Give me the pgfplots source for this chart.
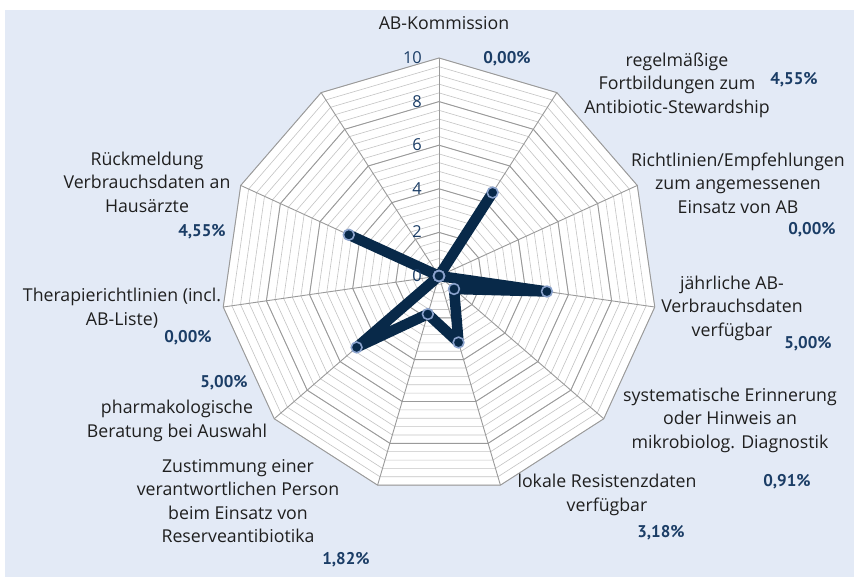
\documentclass[border=0pt]{standalone}
\usepackage{pgfplots}
\pgfplotsset{compat=1.18}
\usepackage{fontspec}
\setmainfont{Open Sans}
\newfontfamily\pts{PT Sans}
\definecolor{bg}{HTML}{E3EAF6}
\definecolor{navy}{HTML}{082949}
\definecolor{ring}{HTML}{8AA2CC}
\definecolor{pct}{HTML}{1B3D66}
\definecolor{gmaj}{HTML}{9A9A9A}
\definecolor{gmin}{HTML}{C4C4C4}
\begin{document}
\begin{tikzpicture}[x=1bp,y=1bp]
\useasboundingbox (0,0) rectangle (854,578);
\fill[white] (0,0) rectangle (854,578);
\fill[bg] (5,1) rectangle (854,568);
\begin{scope}[shift={(439,302)}, x=21.8bp, y=21.8bp]
  \fill[white] (90:10) \foreach \k in {1,...,10}{ -- ({90-\k*360/11}:10)} -- cycle;
  \foreach \i in {1,...,25}{
    \pgfmathsetmacro{\r}{\i*0.4}
    \draw[gmin, line width=0.6bp] (90:\r) \foreach \k in {1,...,10}{ -- ({90-\k*360/11}:\r)} -- cycle;
  }
  \foreach \r in {2,4,6,8,10}{
    \draw[gmaj, line width=0.9bp] (90:\r) \foreach \k in {1,...,10}{ -- ({90-\k*360/11}:\r)} -- cycle;
  }
  \foreach \k in {0,...,10}{
    \draw[gmaj, line width=0.9bp] (0,0) -- ({90-\k*360/11}:10);
  }
\end{scope}
\begin{axis}[at={(439bp,302bp)}, anchor=origin, hide axis, x=21.8bp, y=21.8bp,
  xmin=-11, xmax=11, ymin=-11, ymax=11, clip=false]
\addplot[navy, line width=10.5bp, line join=round, line cap=round, data cs=polar,
  mark=*, mark size=5.4bp, mark options={fill=navy, draw=ring, line width=1.6bp}]
  coordinates {
  (90,0)
  (57.2727,4.55)
  (24.5455,0)
  (-8.1818,5.00)
  (-40.9091,0.91)
  (-73.6364,3.18)
  (-106.3636,1.82)
  (-139.0909,5.00)
  (-171.8182,0)
  (-204.5455,4.55)
  (-237.2727,0)
  (90,0)
  };
\end{axis}
% radial tick labels
\begin{scope}[every node/.style={font=\fontsize{16.5}{20}\selectfont, text=pct, anchor=east, inner sep=0pt}]
\node at (422,578-276) {0};
\node at (422,578-232) {2};
\node at (422,578-189) {4};
\node at (422,578-145) {6};
\node at (422,578-102) {8};
\node at (422,578-58) {10};
\end{scope}
% category labels
\begin{scope}[every node/.style={font=\fontsize{17.8}{23.5}\selectfont, text=black!88, align=center, inner sep=0pt}]
\node at (444,578-23) {AB-Kommission};
\node at (677,578-85) {regelmäßige\\Fortbildungen zum\\Antibiotic-Stewardship};
\node at (738,578-183) {Richtlinien/Empfehlungen\\zum angemessenen\\Einsatz von AB};
\node at (732,578-308) {jährliche AB-\\Verbrauchsdaten\\verfügbar};
\node at (730,578-420) {systematische Erinnerung\\oder Hinweis an\\mikrobiolog. Diagnostik};
\node at (607,578-495) {lokale Resistenzdaten\\verfügbar};
\node at (238,578-501) {Zustimmung einer\\verantwortlichen Person\\beim Einsatz von\\Reserveantibiotika};
\node at (177,578-421) {pharmakologische\\Beratung bei Auswahl};
\node at (122,578-308) {Therapierichtlinien (incl.\\AB-Liste)};
\node at (147,578-182) {Rückmeldung\\Verbrauchsdaten an\\Hausärzte};
\end{scope}
% percentage labels
\begin{scope}[every node/.style={font=\pts\fontsize{17}{20}\selectfont\bfseries, text=pct, inner sep=0pt}]
\node at (507,578-59) {0,00\%};
\node at (794,578-80) {4,55\%};
\node at (812,578-230) {0,00\%};
\node at (808,578-344) {5,00\%};
\node at (787,578-482) {0,91\%};
\node at (661,578-533) {3,18\%};
\node at (346,578-560) {1,82\%};
\node at (224,578-383) {5,00\%};
\node at (188,578-338) {0,00\%};
\node at (202,578-232) {4,55\%};
\end{scope}
\end{tikzpicture}
\end{document}
